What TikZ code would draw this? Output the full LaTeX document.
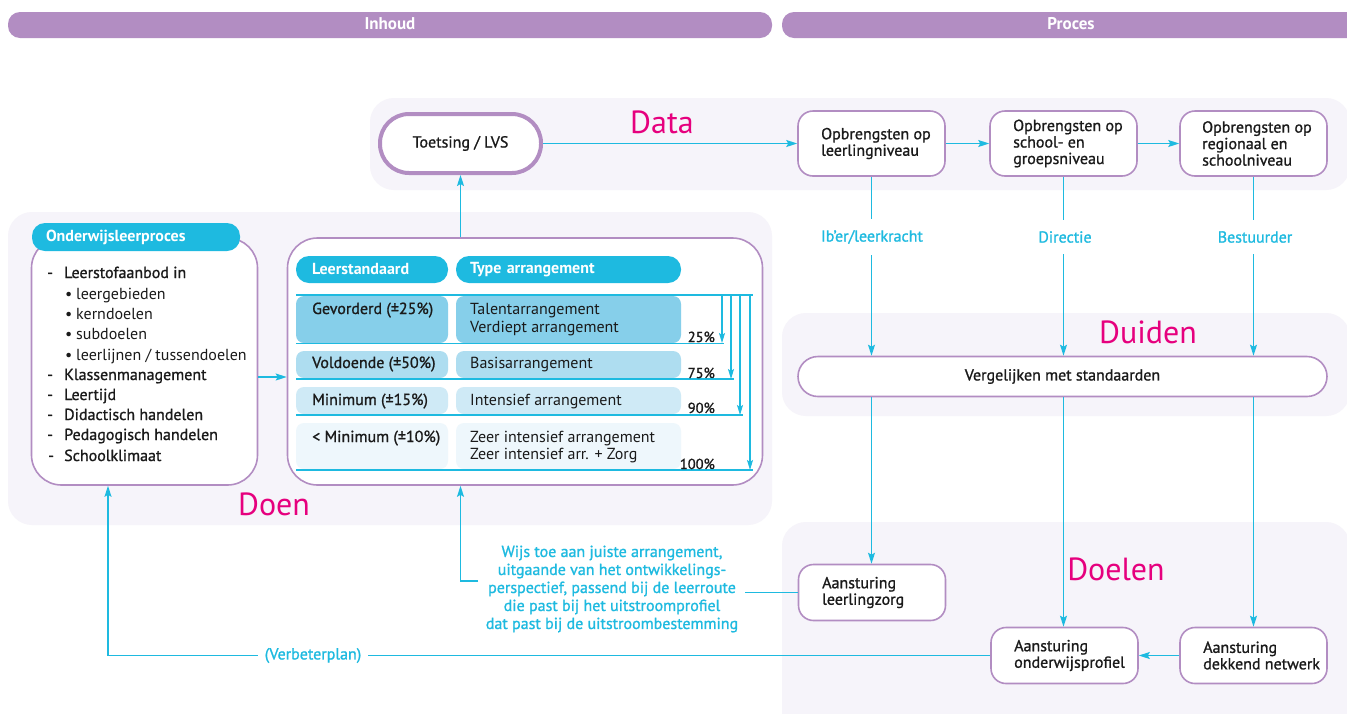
\documentclass[tikz,border=0pt]{standalone}
\usepackage{fontspec}
\setmainfont{PT Sans}
\newfontfamily\medf{PT Sans}[FakeBold=1.1]
\usetikzlibrary{arrows.meta}
\definecolor{purp}{HTML}{B28DC2}
\definecolor{cyn}{HTML}{1EBAE0}
\definecolor{panel}{HTML}{F6F4FA}
\definecolor{mag}{HTML}{E6007E}
\definecolor{ink}{HTML}{1A1A1A}
\definecolor{rowa}{HTML}{86CFEA}
\definecolor{rowb}{HTML}{AEDDF0}
\definecolor{rowc}{HTML}{CFEAF6}
\definecolor{rowd}{HTML}{EEF7FC}
\begin{document}
\begin{tikzpicture}[x=1pt,y=-1pt,
  panelbg/.style={fill=panel, rounded corners=24pt},
  hdrbar/.style={fill=purp, rounded corners=12pt},
  hdrtxt/.style={text=white, font=\bfseries\fontsize{17}{19}\selectfont, inner sep=0pt},
  nbox/.style={draw=purp, line width=1.6pt, fill=white, rounded corners=15pt, inner sep=0pt},
  pillc/.style={fill=cyn, rounded corners=13pt, inner sep=0pt, text=white, align=left, font=\bfseries\fontsize{16}{18}\selectfont},
  lbl/.style={font=\medf\fontsize{16}{16.5}\selectfont, align=left, inner sep=0pt, text=ink},
  itm/.style={font=\medf\fontsize{16}{18}\selectfont, inner sep=0pt, anchor=base west, text=ink},
  subitm/.style={font=\fontsize{16}{18}\selectfont, inner sep=0pt, anchor=base west, text=ink},
  conn/.style={draw=cyn, line width=1.5pt, -{Stealth[length=11pt,width=7pt,inset=2pt]}},
  smallarr/.style={draw=cyn, line width=1.1pt, -{Stealth[length=10pt,width=6pt,inset=2pt]}},
  cline/.style={draw=cyn, line width=1.5pt},
  cynlab/.style={text=cyn, font=\medf\fontsize{16}{18}\selectfont, fill=white, inner xsep=5pt, inner ysep=11pt},
  bigmag/.style={text=mag, font=\fontsize{32}{34}\selectfont, inner sep=0pt},
  cell/.style={rounded corners=8pt},
  pct/.style={font=\medf\fontsize{14.5}{16}\selectfont, inner sep=0pt, anchor=base east, text=ink}
]
\clip (0,0) rectangle (1347,713);
\fill[white] (0,0) rectangle (1347,713);

% panels
\fill[panelbg] (370,98) rectangle (1350,190);
\fill[panelbg] (8,212) rectangle (772,525);
\fill[panelbg] (782,313) rectangle (1350,416);
\fill[panelbg] (782,522) rectangle (1350,740);

% header bars
\fill[hdrbar] (8,12) rectangle (772,38);
\fill[hdrbar] (782,12) rectangle (1375,38);
\node[hdrtxt] (hin) at (390,24) {Inhoud};
\node[hdrtxt] (hpr) at (1071,24) {Proces};

% big labels
\node[bigmag] (ldata) at (662,122) {Data};
\node[bigmag] (lduiden) at (1148,332) {Duiden};
\node[bigmag] (ldoelen) at (1116,569) {Doelen};
\node[bigmag] (ldoen) at (274,504) {Doen};

% Data row
\node[draw=purp, line width=4pt, fill=white, rounded corners=29pt, minimum width=161, minimum height=59, inner sep=0pt, font=\medf\fontsize{16}{18}\selectfont, text=ink] (toets) at (460.5,143.5) {Toetsing / LVS};
\node[nbox, minimum width=147, minimum height=65] (n1) at (871.5,143.5) {};
\node[lbl, anchor=west] (t1) at (821,143.5) {Opbrengsten op\\leerlingniveau};
\node[nbox, minimum width=147, minimum height=65] (n2) at (1063.5,143.5) {};
\node[lbl, anchor=west] (t2) at (1013,143.5) {Opbrengsten op\\school- en\\groepsniveau};
\node[nbox, minimum width=147, minimum height=65] (n3) at (1253.5,143.5) {};
\node[lbl, anchor=west] (t3) at (1202,143.5) {Opbrengsten op\\regionaal en\\schoolniveau};
\draw[conn] (toets.east) -- (n1.west);
\draw[conn] (n1.east) -- (n2.west);
\draw[conn] (n2.east) -- (n3.west);

% Duiden
\node[nbox, rounded corners=20pt, minimum width=529, minimum height=40, font=\medf\fontsize{16}{18}\selectfont, text=ink] (verg) at (1062.5,376.5) {Vergelijken met standaarden};
\draw[conn] (n1.south) -- (n1.south |- verg.north);
\draw[conn] (n2.south) -- (n2.south |- verg.north);
\draw[conn] (n3.south) -- (n3.south |- verg.north);
\node[cynlab] (r1) at (872,237) {Ib’er/leerkracht};
\node[cynlab] (r2) at (1065,237) {Directie};
\node[cynlab] (r3) at (1255,237) {Bestuurder};

% Doelen
\node[nbox, minimum width=147, minimum height=56] (lz) at (872,592.5) {};
\node[lbl, anchor=west] (tlz) at (822,592.5) {Aansturing\\leerlingzorg};
\node[nbox, minimum width=147, minimum height=56] (op) at (1064.5,655.5) {};
\node[lbl, anchor=west] (top) at (1014,655.5) {Aansturing\\onderwijsprofiel};
\node[nbox, minimum width=147, minimum height=56] (dn) at (1253.5,655.5) {};
\node[lbl, anchor=west] (tdn) at (1203,655.5) {Aansturing\\dekkend netwerk};
\draw[conn] (n1.south |- verg.south) -- (n1.south |- lz.north);
\draw[conn] (n2.south |- verg.south) -- (n2.south |- op.north);
\draw[conn] (n3.south |- verg.south) -- (n3.south |- dn.north);
\draw[conn] (dn.west) -- (op.east);

% Onderwijsleerproces box
\node[nbox, rounded corners=30pt, minimum width=226, minimum height=247] (olp) at (144.5,361.5) {};
\node[pillc, minimum width=208, minimum height=28, text width=180] (olph) at (136,237) {Onderwijsleerproces};
\node[itm] (l1) at (47,278) {\makebox[17pt][l]{-}Leerstofaanbod in};
\node[subitm] (l2) at (65,299) {\makebox[11pt][l]{\textbullet}leergebieden};
\node[subitm] (l3) at (65,319) {\makebox[11pt][l]{\textbullet}kerndoelen};
\node[subitm] (l4) at (65,339) {\makebox[11pt][l]{\textbullet}subdoelen};
\node[subitm] (l5) at (65,360) {\makebox[11pt][l]{\textbullet}leerlijnen / tussendoelen};
\node[itm] (l6) at (47,380) {\makebox[17pt][l]{-}Klassenmanagement};
\node[itm] (l7) at (47,400) {\makebox[17pt][l]{-}Leertijd};
\node[itm] (l8) at (47,420) {\makebox[17pt][l]{-}Didactisch handelen};
\node[itm] (l9) at (47,440) {\makebox[17pt][l]{-}Pedagogisch handelen};
\node[itm] (l10) at (48,461) {\makebox[16pt][l]{-}Schoolklimaat};

% Arrangement box
\node[nbox, rounded corners=30pt, minimum width=475, minimum height=247] (arr) at (525,361.5) {};
\node[pillc, minimum width=152, minimum height=27, text width=120] (lsh) at (372,269.5) {Leerstandaard};
\node[pillc, minimum width=225, minimum height=27, text width=197] (tah) at (568.5,269.5) {Type arrangement};
\fill[rowa, cell] (296,296) rectangle (448,343);
\fill[rowa, cell] (456,296) rectangle (681,343);
\fill[rowb, cell] (296,351) rectangle (448,378);
\fill[rowb, cell] (456,351) rectangle (681,378);
\fill[rowc, cell] (296,387) rectangle (448,414);
\fill[rowc, cell] (456,387) rectangle (681,414);
\fill[rowd, cell] (296,423) rectangle (448,469);
\fill[rowd, cell] (456,423) rectangle (681,469);
\draw[cline, line width=1.1pt] (296,295) -- (753,295);
\draw[cline, line width=1.1pt] (296,343.5) -- (724,343.5);
\draw[cline, line width=1.1pt] (296,379) -- (734,379);
\draw[cline, line width=1.1pt] (296,415) -- (743,415);
\draw[cline, line width=1.1pt] (296,470) -- (753,470);
\draw[smallarr] (722,295) -- (722,343);
\draw[smallarr] (731,295) -- (731,379);
\draw[smallarr] (740,295) -- (740,415);
\draw[smallarr] (750,295) -- (750,470);
\node[itm] (c1a) at (312,314) {Gevorderd (±25\%)};
\node[subitm] (c1b) at (470,314) {Talentarrangement};
\node[subitm] (c1c) at (470,332) {Verdiept arrangement};
\node[itm] (c2a) at (312,368) {Voldoende (±50\%)};
\node[subitm] (c2b) at (470,368) {Basisarrangement};
\node[itm] (c3a) at (312,405) {Minimum (±15\%)};
\node[subitm] (c3b) at (470,405) {Intensief arrangement};
\node[itm] (c4a) at (312,442) {< Minimum (±10\%)};
\node[subitm] (c4b) at (470,442) {Zeer intensief arrangement};
\node[subitm] (c4c) at (470,459) {Zeer intensief arr. + Zorg};
\node[pct] (p1) at (715,342) {25\%};
\node[pct] (p2) at (715,378) {75\%};
\node[pct] (p3) at (715,413) {90\%};
\node[pct] (p4) at (715,469) {100\%};

% connections of the Doen part
\draw[conn] (olp.east |- 0,377) -- (arr.west |- 0,377);
\draw[conn] (toets.south |- arr.north) -- (toets.south);

% Wijs toe
\node[text=cyn, font=\medf\fontsize{16}{18}\selectfont, align=center, inner sep=0pt] (wijs) at (612,589) {Wijs toe aan juiste arrangement,\\uitgaande van het ontwikkelings-\\perspectief, passend bij de leerroute\\die past bij het uitstroomprofiel\\dat past bij de uitstroombestemming};
\draw[cline] (lz.west) -- ([xshift=7pt]wijs.east |- lz.west);
\coordinate (ws) at (478,581);
\draw[conn] (ws) -| (toets.south |- arr.south);

% Verbeterplan
\coordinate (vb) at (108,655.5);
\draw[conn] (op.west) -- (vb) -- (vb |- olp.south);
\node[cynlab, inner ysep=3pt, inner xsep=7pt] (vbl) at (313,655.5) {(Verbeterplan)};
\end{tikzpicture}
\end{document}
